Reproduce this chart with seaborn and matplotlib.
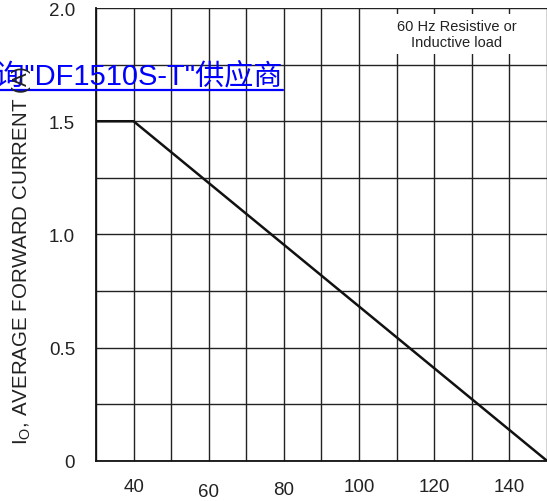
import seaborn as sns
import pandas as pd
import matplotlib.pyplot as plt
import matplotlib.transforms as mtransforms
from matplotlib.lines import Line2D

# derating curve values
temperature = [30, 40, 150]
avg_current = [1.5, 1.5, 0.0]
x_ticks = [40, 60, 80, 100, 120, 140]
y_ticks = [0, 0.5, 1.0, 1.5, 2.0]
y_tick_labels = ["0", "0.5", "1.0", "1.5", "2.0"]
note = "60 Hz Resistive or\nInductive load"
link_text = '查询"DF1510S-T"供应商'

df = pd.DataFrame({"Temperature": temperature, "Current": avg_current})

sns.set_style("white")
plt.rcParams['font.family'] = ['Liberation Sans', 'DejaVu Sans']

fig = plt.figure(figsize=(5.47, 5.02), dpi=100)
ax = fig.add_axes([0.1755, 0.080, 0.8245, 0.902])

sns.lineplot(x="Temperature", y="Current", data=df, color="#111111", linewidth=1.8, ax=ax)

ax.set_xlim(30, 150)
ax.set_ylim(0, 2.0)
ax.set_xticks(x_ticks)
ax.set_xticks(range(30, 151, 10), minor=True)
ax.set_yticks(y_ticks)
ax.set_yticklabels(y_tick_labels)
ax.set_yticks([0.25, 0.75, 1.25, 1.75], minor=True)
ax.grid(True, which="both", color="#222222", linewidth=1.0)
ax.set_axisbelow(True)
ax.tick_params(axis="both", which="both", length=0, labelsize=13.5, colors="#222222")
ax.tick_params(axis="y", pad=15)
ax.tick_params(axis="x", pad=12)

# labels in the scan sit a little uneven
offsets = {60: -5, 80: -3}
for val, lab in zip(x_ticks, ax.get_xticklabels()):
    dy = offsets.get(val, 0)
    if dy:
        lab.set_transform(lab.get_transform() + mtransforms.ScaledTranslation(0, dy / 100, fig.dpi_scale_trans))

for side in ["top", "right"]:
    ax.spines[side].set_visible(False)
for side in ["left", "bottom"]:
    ax.spines[side].set_color("#111111")
    ax.spines[side].set_linewidth(1.3)

ax.set_xlabel("")
ax.set_ylabel("")
# y label drawn as figure text so it sits above the blue link like in the scan
fig.text(22 / 547, 1 - 255 / 502, "I$_\\mathregular{O}$, AVERAGE FORWARD CURRENT (A)", rotation=90,
         ha="center", va="center", fontsize=14.8, color="#222222", zorder=5)

ax.text(0.80, 0.9426, note, transform=ax.transAxes, ha="center", va="center", fontsize=10.5,
        color="#222222", linespacing=1.25,
        bbox=dict(facecolor="white", edgecolor="none", pad=3))

# blue hyperlink overlay
fig.text(283 / 547, 1 - 84 / 502, link_text, ha="right", va="baseline", fontsize=21,
         color="#0000ff", family=['Liberation Sans', 'Noto Sans CJK SC'], zorder=3)
fig.add_artist(Line2D([0, 283 / 547], [1 - 91 / 502, 1 - 91 / 502], color="#0000ff", linewidth=1.6,
                      transform=fig.transFigure))

fig.savefig("out.png", dpi=100)
